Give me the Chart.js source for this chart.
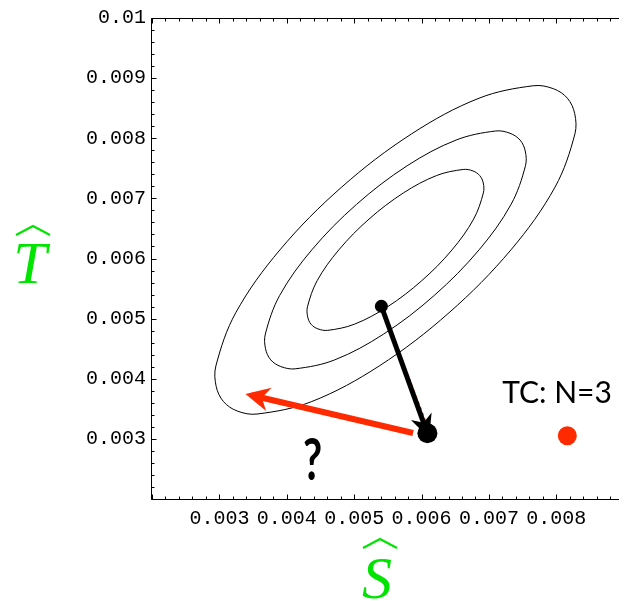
<!DOCTYPE html>
<html>
<head>
<meta charset="utf-8">
<title>TC: N=3</title>
<script src="https://cdn.jsdelivr.net/npm/chart.js"></script>
<style>
  body { margin: 0; background: #fff; }
  #wrap { width: 629px; height: 601px; position: relative; }
</style>
</head>
<body>
<div id="wrap"><canvas id="myChart-tc"></canvas></div>
<script>
// ticks (S hat on x, T hat on y)
const xTickValues = [0.003, 0.004, 0.005, 0.006, 0.007, 0.008];
const xTickLabels = ['0.003', '0.004', '0.005', '0.006', '0.007', '0.008'];
const yTickValues = [0.003, 0.004, 0.005, 0.006, 0.007, 0.008, 0.009, 0.01];
const yTickLabels = ['0.003', '0.004', '0.005', '0.006', '0.007', '0.008', '0.009', '0.01'];

// contour lines, points (going round each ring)
const innerS = [0.006452, 0.006003, 0.005494, 0.005003, 0.004606, 0.004461, 0.004360, 0.004310, 0.004307, 0.004451, 0.004772, 0.005221, 0.005730, 0.006221, 0.006618, 0.006763, 0.006863, 0.006916, 0.006917, 0.006773];
const innerT = [0.006143, 0.005631, 0.005196, 0.004907, 0.004805, 0.004830, 0.004907, 0.005030, 0.005196, 0.005631, 0.006143, 0.006656, 0.007090, 0.007379, 0.007481, 0.007456, 0.007379, 0.007256, 0.007090, 0.006656];
const middleS = [0.006853, 0.006189, 0.005438, 0.004712, 0.004124, 0.003911, 0.003762, 0.003685, 0.003682, 0.003895, 0.004371, 0.005035, 0.005786, 0.006512, 0.007100, 0.007312, 0.007462, 0.007539, 0.007542, 0.007328];
const middleT = [0.006143, 0.005386, 0.004744, 0.004314, 0.004165, 0.004203, 0.004314, 0.004498, 0.004744, 0.005386, 0.006143, 0.006900, 0.007542, 0.007970, 0.008121, 0.008083, 0.007970, 0.007787, 0.007542, 0.006900];
const outerS = [0.007326, 0.006408, 0.005372, 0.004371, 0.003558, 0.003263, 0.003060, 0.002952, 0.002948, 0.003243, 0.003898, 0.004815, 0.005852, 0.006853, 0.007666, 0.007961, 0.008164, 0.008272, 0.008276, 0.007981];
const outerT = [0.006143, 0.005098, 0.004213, 0.003621, 0.003413, 0.003464, 0.003621, 0.003874, 0.004213, 0.005098, 0.006143, 0.007188, 0.008073, 0.008666, 0.008874, 0.008822, 0.008666, 0.008413, 0.008073, 0.007188];

// points [S, T]
const startPoint = [0.005404, 0.005206];
const endPoint = [0.006087, 0.003093];
const tcPoint = [0.008163, 0.003052];
const redArrowFrom = [0.005874, 0.003098];
const redArrowTo = [0.003474, 0.003725];
const dashedTo = [0.006121, 0.003115];

// text anchors [S, T]
const tcLabel = 'TC: N=3';
const tcLabelPos = [0.008010, 0.003597];
const questionPos = [0.004384, 0.002316];

const RED = '#ff2a00';
const GREEN = '#00e400';

function pt(p) {
    return { x: p[0], y: p[1] };
}

// closed ring: one extra point on each end, those two end pieces are hidden
// so the smoothing is the same all round
function ring(s, t) {
    const n = s.length;
    const pts = s.map((v, i) => ({ x: v, y: t[i] }));
    return [pts[n - 1], ...pts, pts[0], pts[1]];
}

function drawHead(ctx, from, to, len, half, extra) {
    const dx = to.x - from.x, dy = to.y - from.y;
    const d = Math.hypot(dx, dy);
    const ux = dx / d, uy = dy / d;
    const tx = to.x + ux * extra, ty = to.y + uy * extra;
    const bx = tx - ux * len, by = ty - uy * len;
    const nx = tx - ux * len * 0.7, ny = ty - uy * len * 0.7;
    ctx.beginPath();
    ctx.moveTo(tx, ty);
    ctx.lineTo(bx - uy * half, by + ux * half);
    ctx.lineTo(nx, ny);
    ctx.lineTo(bx + uy * half, by - ux * half);
    ctx.closePath();
    ctx.fill();
}

// frame with inward ticks, arrow heads and the texts
const decor = {
    id: 'decor',
    afterDatasetsDraw(chart) {
        const { ctx, chartArea: a, scales: { x, y } } = chart;
        ctx.save();

        // arrow heads
        const px = p => ({ x: x.getPixelForValue(p[0]), y: y.getPixelForValue(p[1]) });
        ctx.fillStyle = RED;
        drawHead(ctx, px(redArrowFrom), px(redArrowTo), 24, 12, 6);
        ctx.fillStyle = '#000';
        drawHead(ctx, px(startPoint), px(endPoint), 23, 11, 5);

        // frame
        const L = a.left - 0.5, T = a.top + 0.5, B = a.bottom + 0.5;
        ctx.strokeStyle = '#000';
        ctx.lineWidth = 1;
        ctx.beginPath();
        ctx.moveTo(a.right, T);
        ctx.lineTo(L, T);
        ctx.lineTo(L, B);
        ctx.lineTo(a.right, B);
        ctx.stroke();

        ctx.beginPath();
        for (let k = 10; k * 0.0002 <= x.max; k++) {
            const xp = Math.round(x.getPixelForValue(k * 0.0002)) + 0.5;
            const len = k % 5 === 0 ? 5 : 3;
            ctx.moveTo(xp, B); ctx.lineTo(xp, B - len);
            ctx.moveTo(xp, T); ctx.lineTo(xp, T + len);
        }
        for (let k = 10; k <= 50; k++) {
            const yp = Math.round(y.getPixelForValue(k * 0.0002)) + 0.5;
            const len = k % 5 === 0 ? 5 : 3;
            ctx.moveTo(L, yp); ctx.lineTo(L + len, yp);
        }
        ctx.stroke();

        // labels inside the plot
        ctx.fillStyle = '#000';
        ctx.textAlign = 'center';
        ctx.textBaseline = 'alphabetic';
        ctx.font = '30px Lato';
        ctx.fillText(tcLabel, x.getPixelForValue(tcLabelPos[0]), y.getPixelForValue(tcLabelPos[1]));

        ctx.save();
        ctx.translate(x.getPixelForValue(questionPos[0]), y.getPixelForValue(questionPos[1]));
        ctx.scale(0.72, 1);
        ctx.font = 'bold 58px Lato';
        ctx.fillText('?', 0, 0);
        ctx.restore();

        // axis titles: T hat (left) and S hat (bottom)
        ctx.fillStyle = GREEN;
        ctx.strokeStyle = GREEN;
        ctx.font = 'italic 60px "Liberation Serif"';
        ctx.fillText('T', 30, 283);
        ctx.fillText('S', 377, 598);
        ctx.lineWidth = 2.2;
        ctx.lineJoin = 'miter';
        ctx.beginPath();
        ctx.moveTo(16, 235); ctx.lineTo(33, 226); ctx.lineTo(50, 235);
        ctx.moveTo(363, 548); ctx.lineTo(380, 539); ctx.lineTo(397, 548);
        ctx.stroke();

        ctx.restore();
    }
};

function contour(label, s, t) {
    const last = s.length + 2;
    return {
        label: label,
        data: ring(s, t),
        showLine: true,
        pointRadius: 0,
        borderColor: '#000',
        borderWidth: 1,
        tension: 0.35,
        fill: false,
        segment: {
            borderColor: c => (c.p0DataIndex === 0 || c.p1DataIndex === last) ? 'rgba(0,0,0,0)' : undefined
        }
    };
}

const ctx = document.getElementById('myChart-tc');

new Chart(ctx, {
    type: 'scatter',
    data: {
        datasets: [
            { label: 'TC', data: [pt(tcPoint)], pointRadius: 9.5, backgroundColor: RED, borderWidth: 0 },
            { label: 'end', data: [pt(endPoint)], pointRadius: 10, backgroundColor: '#000', borderWidth: 0 },
            { label: 'start', data: [pt(startPoint)], pointRadius: 6.5, backgroundColor: '#000', borderWidth: 0 },
            { label: 'step', data: [pt(startPoint), pt(endPoint)], showLine: true, pointRadius: 0,
              borderColor: '#000', borderWidth: 5, borderCapStyle: 'butt' },
            { label: 'dashed', data: [pt(startPoint), pt(dashedTo)], showLine: true, pointRadius: 0,
              borderColor: RED, borderWidth: 1.5, borderDash: [3, 3] },
            { label: 'guess', data: [pt(redArrowFrom), pt(redArrowTo)], showLine: true, pointRadius: 0,
              borderColor: RED, borderWidth: 6, borderCapStyle: 'butt' },
            contour('inner', innerS, innerT),
            contour('middle', middleS, middleT),
            contour('outer', outerS, outerT)
        ]
    },
    options: {
        responsive: true,
        maintainAspectRatio: false,
        animation: false,
        layout: { padding: { top: 18, right: 0, bottom: 0, left: 0 } },
        plugins: {
            legend: { display: false },
            tooltip: { enabled: false }
        },
        scales: {
            x: {
                type: 'linear',
                min: 0.002,
                max: 0.00893,
                grid: { display: false, drawTicks: false },
                border: { display: false },
                afterBuildTicks: s => { s.ticks = xTickValues.map(v => ({ value: v })); },
                afterFit: s => { s.height = 102; },
                ticks: {
                    autoSkip: false,
                    maxRotation: 0,
                    padding: 8,
                    color: '#000',
                    font: { family: '"Liberation Mono"', size: 20 },
                    callback: (v, i) => xTickLabels[i]
                }
            },
            y: {
                type: 'linear',
                min: 0.002,
                max: 0.01,
                grid: { display: false, drawTicks: false },
                border: { display: false },
                afterBuildTicks: s => { s.ticks = yTickValues.map(v => ({ value: v })); },
                afterFit: s => { s.width = 152; },
                ticks: {
                    autoSkip: false,
                    padding: 6,
                    color: '#000',
                    font: { family: '"Liberation Mono"', size: 20 },
                    callback: (v, i) => yTickLabels[i]
                }
            }
        }
    },
    plugins: [decor]
});
</script>
</body>
</html>
